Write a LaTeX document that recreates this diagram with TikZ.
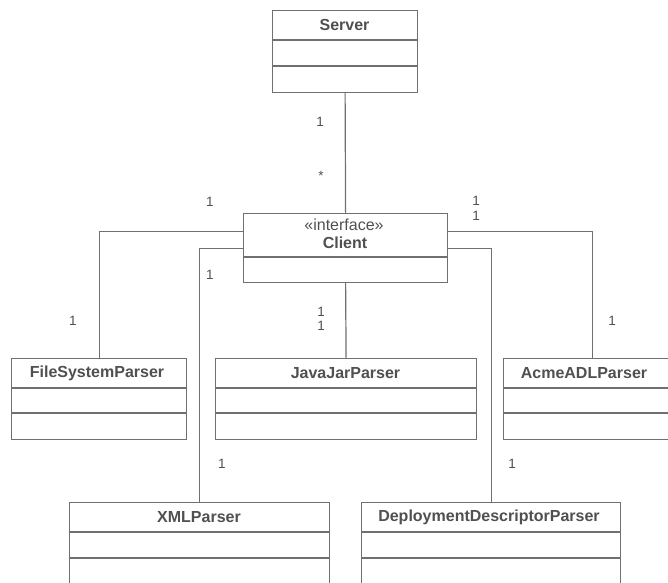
\documentclass[tikz,border=0pt]{standalone}
\usepackage{fontspec}
\setmainfont{Liberation Sans}
\definecolor{linec}{HTML}{707070}
\definecolor{textc}{HTML}{505050}
\begin{document}
\begin{tikzpicture}[x=1pt,y=-1pt,
  cls/.style={draw=linec,line width=1.2pt,rectangle,inner sep=0pt,anchor=north west},
  ttl/.style={text=textc,font=\fontsize{16}{18}\selectfont\bfseries,inner sep=0pt},
  mult/.style={text=textc,font=\fontsize{13.5}{15}\selectfont,inner sep=0pt},
  divl/.style={draw=linec,line width=1.2pt},
  conn/.style={draw=linec,line width=1.2pt}]
\useasboundingbox (0,0) rectangle (668,582);
\fill[white] (0,0) rectangle (668,582);
\clip (0,0) rectangle (668,582);
% classes
\node[cls,minimum width=145pt,minimum height=82pt] (server) at (272,10) {};
\node[cls,minimum width=204pt,minimum height=69pt] (client) at (243,213) {};
\node[cls,minimum width=175pt,minimum height=81pt] (fsp) at (11,358) {};
\node[cls,minimum width=261pt,minimum height=81pt] (jjp) at (215,358) {};
\node[cls,minimum width=177pt,minimum height=81pt] (acme) at (503,358) {};
\node[cls,minimum width=260pt,minimum height=100pt] (xml) at (69,502) {};
\node[cls,minimum width=259pt,minimum height=100pt] (ddp) at (361,502) {};
% titles
\node[ttl] (tserver) at (344.5,25) {Server};
\node[mult,font=\fontsize{16}{18}\selectfont] (tstereo) at (344,225) {«interface»};
\node[ttl] (tclient) at (345,243) {Client};
\node[ttl] (tfsp) at (97,373) {FileSystemParser};
\node[ttl] (tjjp) at (345.5,373) {JavaJarParser};
\node[ttl] (tacme) at (584,373) {AcmeADLParser};
\node[ttl] (txml) at (199,517) {XMLParser};
\node[ttl] (tddp) at (489,517) {DeploymentDescriptorParser};
% dividers
\draw[divl] (server.west |- 0,40) -- (server.east |- 0,40);
\draw[divl] (server.west |- 0,66) -- (server.east |- 0,66);
\draw[divl] (client.west |- 0,257) -- (client.east |- 0,257);
\foreach \n in {fsp,jjp,acme}{
  \draw[divl] (\n.west |- 0,388) -- (\n.east |- 0,388);
  \draw[divl] (\n.west |- 0,413) -- (\n.east |- 0,413);
}
\foreach \n in {xml,ddp}{
  \draw[divl] (\n.west |- 0,532) -- (\n.east |- 0,532);
  \draw[divl] (\n.west |- 0,558) -- (\n.east |- 0,558);
}
% connectors
\draw[conn] (server.south) -- (client.north);
\draw[conn] ([yshift=16.5pt]client.west) -| (fsp.north);
\draw[conn] (client.west) -| (xml.north);
\draw[conn] (client.south) -- (jjp.north);
\draw[conn] ([yshift=16.5pt]client.east) -| (acme.north);
\draw[conn] (client.east) -| (ddp.north);
% multiplicities
\node[mult] (m1) at (320,122) {1};
\node[mult] (m2) at (321,176) {*};
\node[mult] (m3) at (210,202) {1};
\node[mult] (m4) at (210,275) {1};
\node[mult] (m5) at (73,321) {1};
\node[mult] (m6) at (321,312) {1};
\node[mult] (m7) at (321,326) {1};
\node[mult] (m8) at (476,201) {1};
\node[mult] (m9) at (476,216) {1};
\node[mult] (m10) at (612,321) {1};
\node[mult] (m11) at (222,464) {1};
\node[mult] (m12) at (512,464) {1};
\end{tikzpicture}
\end{document}
